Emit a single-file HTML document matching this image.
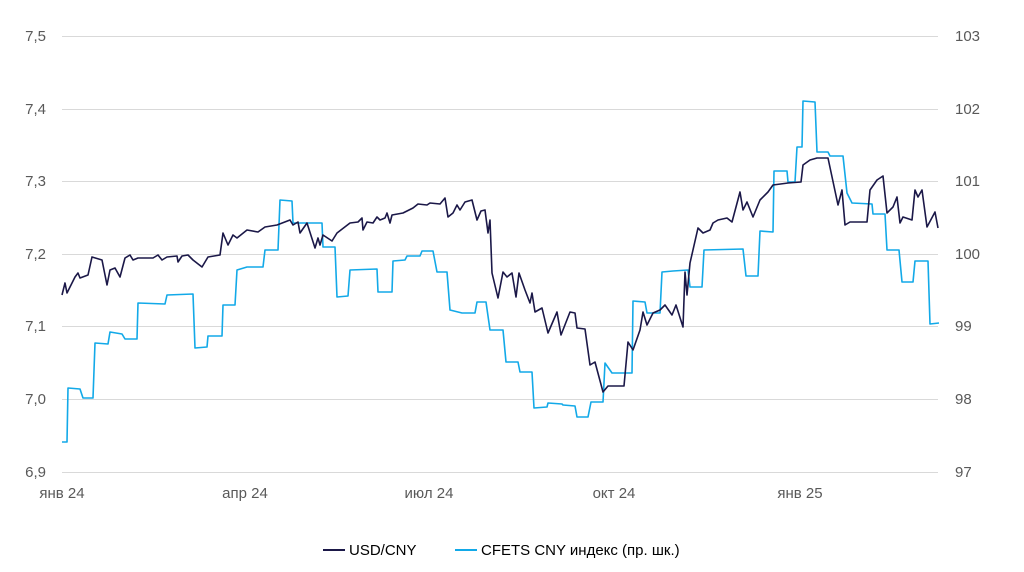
<!DOCTYPE html>
<html><head><meta charset="utf-8"><style>
html,body{margin:0;padding:0;background:#fff;}
svg{display:block;font-family:"Liberation Sans","DejaVu Sans",sans-serif;}
</style></head><body>
<svg width="1024" height="572" viewBox="0 0 1024 572" xmlns="http://www.w3.org/2000/svg">
<g stroke="#d9d9d9" stroke-width="1">
<line x1="62" y1="36.5" x2="938" y2="36.5"/>
<line x1="62" y1="109.5" x2="938" y2="109.5"/>
<line x1="62" y1="181.5" x2="938" y2="181.5"/>
<line x1="62" y1="254.5" x2="938" y2="254.5"/>
<line x1="62" y1="326.5" x2="938" y2="326.5"/>
<line x1="62" y1="399.5" x2="938" y2="399.5"/>
<line x1="62" y1="472.5" x2="938" y2="472.5"/>
</g>
<g fill="#595959" font-size="15">
<g text-anchor="end">
<text x="46" y="41">7,5</text><text x="46" y="114">7,4</text><text x="46" y="186">7,3</text>
<text x="46" y="259">7,2</text><text x="46" y="331">7,1</text><text x="46" y="404">7,0</text><text x="46" y="477">6,9</text>
</g>
<g text-anchor="start">
<text x="955" y="41">103</text><text x="955" y="114">102</text><text x="955" y="186">101</text>
<text x="955" y="259">100</text><text x="955" y="331">99</text><text x="955" y="404">98</text><text x="955" y="477">97</text>
</g>
<g text-anchor="middle">
<text x="62" y="498">янв 24</text><text x="245" y="498">апр 24</text><text x="429" y="498">июл 24</text>
<text x="614" y="498">окт 24</text><text x="800" y="498">янв 25</text>
</g>
</g>
<polyline fill="none" stroke="#12a9e8" stroke-width="1.6" stroke-linejoin="round" points="62,442 67,442 68,388 80,389 83,398 93,398 95,343 108,344 110,332 122,334 125,339 137,339 138,303 165,304 167,295 193,294 195,348 207,347 208,336 222,336 223,305 235,305 237,270 247,267 263,267 265,250 278,250 280,200 292,201 293,223 322,223 323,247 335,247 337,297 348,296 350,270 377,269 378,292 392,292 393,261 405,260 407,256 420,256 422,251 433,251 437,272 447,272 450,310 462,313 475,313 477,302 486,302 490,330 503,330 506,362 518,362 520,372 532,372 534,408 547,407 548,403 562,404 563,405 575,406 577,417 588,417 591,402 603,402 605,363 612,373 632,373 633,301 645,302 647,313 660,313 662,272 673,271 688,270 690,287 702,287 704,250 743,249 746,276 758,276 760,231 773,232 774,171 787,171 788,182 795,182 797,147 802,147 803,101 815,102 817,152 828,152 830,156 843,156 847,193 852,203 872,204 873,214 885,214 887,250 899,250 902,282 913,282 915,261 928,261 930,324 939,323"/>
<polyline fill="none" stroke="#1b1848" stroke-width="1.6" stroke-linejoin="round" points="62,295 65,283 67,293 75,277 78,273 80,278 88,275 92,257 102,260 107,285 110,270 115,268 120,277 125,258 130,255 133,260 138,258 153,258 158,255 162,260 167,257 177,256 178,262 182,256 188,255 193,260 202,267 208,257 220,255 223,233 228,245 233,235 237,238 247,230 258,232 265,227 277,225 290,220 293,225 298,222 300,233 307,223 315,248 318,238 320,245 323,235 332,241 337,233 350,223 358,222 362,218 363,230 367,222 373,223 377,217 380,220 385,218 387,213 390,223 392,215 403,213 413,208 418,204 427,205 430,203 440,204 445,198 448,217 453,213 457,205 460,210 465,202 472,200 477,220 481,211 485,210 488,233 490,220 492,273 498,298 503,272 507,277 512,273 516,297 519,273 525,290 530,303 532,293 535,312 542,308 548,333 557,312 561,335 570,312 575,313 577,328 585,329 590,365 595,362 599,377 603,392 608,386 624,386 628,342 633,350 640,330 643,312 647,325 653,313 660,310 665,305 672,315 676,305 683,327 685,272 687,295 690,263 698,228 703,233 710,230 713,223 718,220 727,218 732,222 740,192 743,210 747,202 753,217 760,200 768,192 773,185 788,183 801,182 803,165 810,160 817,158 828,158 838,205 842,190 845,225 850,222 867,222 870,190 877,180 883,176 887,213 893,207 897,197 900,223 903,217 912,220 915,190 918,197 922,190 927,227 935,212 938,228"/>
<g font-size="15" fill="#000">
<line x1="323" y1="550" x2="345" y2="550" stroke="#1b1848" stroke-width="2"/>
<text x="349" y="555">USD/CNY</text>
<line x1="455" y1="550" x2="477" y2="550" stroke="#12a9e8" stroke-width="2"/>
<text x="481" y="555">CFETS CNY индекс (пр. шк.)</text>
</g>
</svg>
</body></html>
